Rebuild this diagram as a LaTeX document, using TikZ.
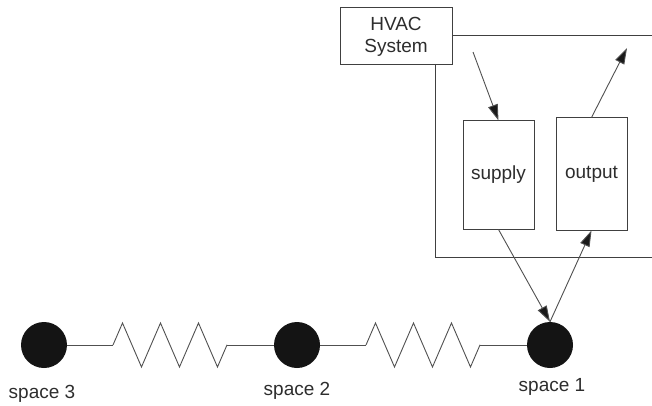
\documentclass[tikz,border=0pt]{standalone}
\usepackage{fontspec}
\setmainfont{Liberation Sans}
\usetikzlibrary{arrows.meta, decorations.pathmorphing}

\definecolor{boxgray}{RGB}{64,64,64}
\definecolor{wiregray}{RGB}{80,80,80}
\definecolor{txtgray}{RGB}{45,45,45}

\begin{document}
\begin{tikzpicture}[
        x = 1pt, y = -1pt,
        > = {Triangle[length=16pt, width=10pt, fill=black!90]},
        every node/.style = {font = \fontsize{19pt}{22pt}\selectfont},
        box/.style = {draw = boxgray, line width = 1pt, inner sep = 0pt, text = txtgray, align = center},
        room/.style = {circle, fill = black!92, inner sep = 0pt, minimum size = 46pt},
        lbl/.style = {anchor = base, text = txtgray},
        wire/.style = {draw = wiregray, line width = 0.9pt},
        spring/.style = {%
            wire,
            decoration = {zigzag, segment length = 37.99pt, amplitude = 22pt},
            decorate
        },
        flow/.style = {wire, ->}
    ]

        \useasboundingbox (0, 0) rectangle (652, 406);

        % HVAC system and its enclosure.
        \node[box, minimum width = 112pt, minimum height = 57pt] (hvac) at (396, 36.5) {HVAC\\System};
        \draw[draw = boxgray, line width = 1pt] (hvac.east |- 0, 36) to (652, 36);
        \draw[draw = boxgray, line width = 1pt] (435, 64) to (435, 257) to (652, 257);

        \node[box, minimum width = 71pt, minimum height = 108pt] (supply) at (498.5, 175) {supply};
        \node[box, minimum width = 71pt, minimum height = 112pt] (output) at (591.5, 174) {output};

        % Spaces.
        \node[room] (s3) at (44, 345) {};
        \node[room] (s2) at (297, 345) {};
        \node[room] (s1) at (550, 345) {};

        \node[lbl] at (42, 398) {space 3};
        \node[lbl] at (297, 395) {space 2};
        \node[lbl] at (552, 391) {space 1};

        % Coordinates for the resistor ends and the free arrow ends.
        \coordinate (r1a) at (113, 345);
        \coordinate (r1b) at (227, 345);
        \coordinate (r2a) at (366, 345);
        \coordinate (r2b) at (480, 345);
        \coordinate (in)  at (473, 52);
        \coordinate (out) at (627, 48);

        % Resistors.
        \draw[wire] (s3) to (r1a);
        \draw[spring] (r1a) to (r1b);
        \draw[wire] (r1b) to (s2);
        \draw[wire] (s2) to (r2a);
        \draw[spring] (r2a) to (r2b);
        \draw[wire] (r2b) to (s1);

        % Air flows.
        \draw[flow] (in) to (supply.north);
        \draw[flow] (output.north) to (out);
        \draw[flow] (supply.south) to (s1.north);
        \draw[flow] (s1.north) to (output.south);
    \end{tikzpicture}
\end{document}
